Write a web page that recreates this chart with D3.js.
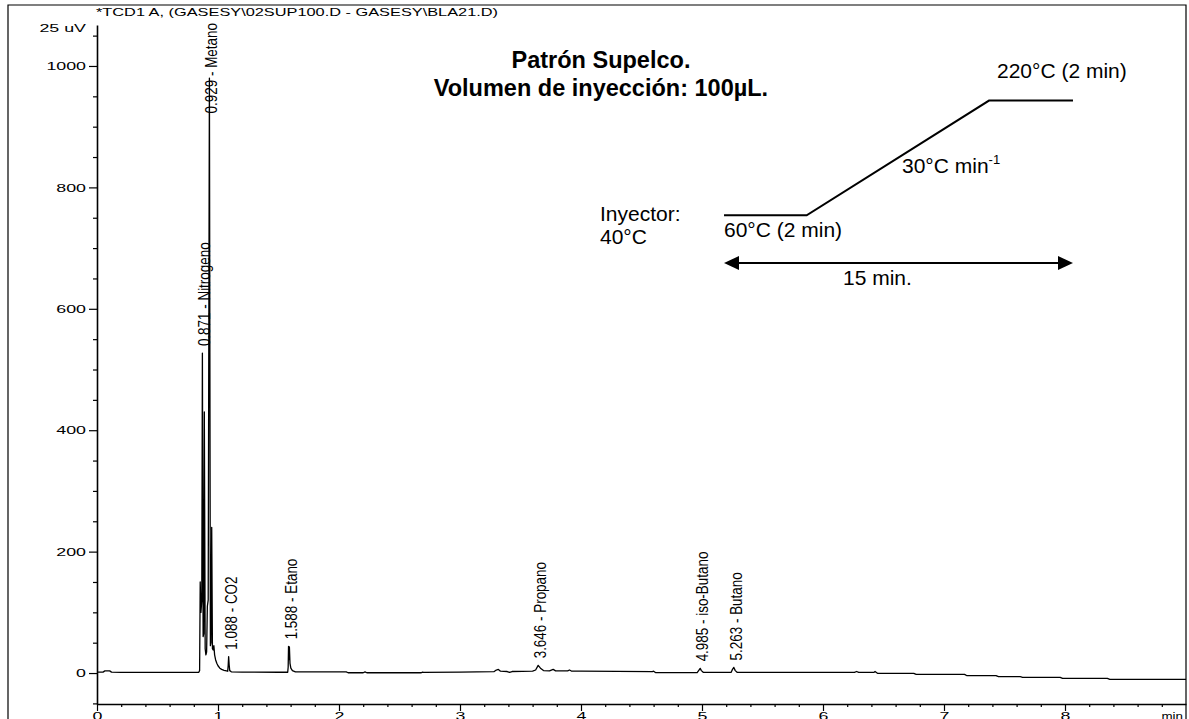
<!DOCTYPE html>
<html>
<head>
<meta charset="utf-8">
<script src="https://cdn.jsdelivr.net/npm/d3@7"></script>
<style>
  html, body { margin: 0; padding: 0; background: #fff; }
  svg { display: block; }
  text { font-family: "Liberation Sans", Arial, Helvetica, sans-serif; fill: #000; }
</style>
</head>
<body>
<svg id="chart" width="1189" height="719"></svg>
<script>
// ---------------- DATA ----------------
const headerText = "*TCD1 A, (GASESY\\02SUP100.D - GASESY\\BLA21.D)";
const unitLabel = "25 uV";
const xUnitLabel = "min";
const titleLines = ["Patrón Supelco.", "Volumen de inyección: 100µL."];

const yTickValues = [0, 200, 400, 600, 800, 1000];
const yTickLabels = ["0", "200", "400", "600", "800", "1000"];
const xTickValues = [0, 1, 2, 3, 4, 5, 6, 7, 8];
const xTickLabels = ["0", "1", "2", "3", "4", "5", "6", "7", "8"];

// chromatogram trace (time in min, signal in 25 uV units)
const traceTime = [
  0.000, 0.050, 0.065, 0.105, 0.120, 0.200, 0.840, 0.848, 0.853, 0.859,
  0.866, 0.871, 0.877, 0.882, 0.887, 0.894, 0.900, 0.906, 0.912, 0.919,
  0.929, 0.937, 0.942, 0.948, 0.954, 0.960, 0.966, 0.972, 0.980, 0.990,
  1.000, 1.015, 1.030, 1.050, 1.070, 1.080, 1.084, 1.088, 1.092, 1.097,
  1.110, 1.200, 1.500, 1.576, 1.580, 1.583, 1.587, 1.590, 1.595, 1.602,
  1.615, 1.640, 1.700, 2.060, 2.075, 2.200, 2.215, 2.230, 2.680, 2.690,
  2.700, 3.000, 3.280, 3.300, 3.317, 3.335, 3.390, 3.410, 3.430, 3.600,
  3.625, 3.646, 3.665, 3.690, 3.740, 3.770, 3.790, 3.890, 3.905, 3.920,
  4.000, 4.590, 4.600, 4.615, 4.960, 4.975, 4.985, 4.995, 5.010, 5.240,
  5.252, 5.263, 5.275, 5.290, 6.260, 6.278, 6.295, 6.420, 6.430, 6.450,
  6.750, 6.770, 7.170, 7.190, 7.430, 7.450, 7.630, 7.650, 7.960, 7.980,
  8.350, 8.370, 9.000
];
const traceSignal = [
  1.5, 1.5, 3.5, 3.5, 1.5, 1.0, 1.0, 4, 150, 100,
  120, 527, 60, 65, 430, 40, 30, 35, 110, 120,
  980, 45, 50, 240, 40, 38, 45, 30, 22, 16,
  12, 8, 6, 4.5, 3.5, 3, 12, 27, 14, 4,
  2, 1.5, 1.3, 1.3, 10, 44, 22, 43, 16, 8,
  4, 2, 1.8, 1.8, 0.5, 0.5, 1.8, 0.5, 0.5, 1.5,
  1.0, 1.5, 2.2, 5, 6, 3, 2.5, 1.2, 2.5, 3,
  5, 12.7, 8, 4, 3.5, 6, 3.5, 3.5, 5, 3.3,
  3, 2.2, 3, 0.8, 0.8, 5, 7.7, 4, 1.2, 1.0,
  6, 9.3, 4, 1.2, 1, 2.5, 1, 1, 2.5, -0.5,
  -0.5, -2.2, -2.2, -4.4, -4.4, -6, -6, -7.1, -7.1, -8.8,
  -8.8, -10.4, -10.4
];

// labelled peaks
const peakTimes   = [0.871, 0.929, 1.088, 1.588, 3.646, 4.985, 5.263];
const peakNames   = ["Nitrogeno", "Metano", "CO2", "Etano", "Propano", "iso-Butano", "Butano"];
const peakHeights = [527, 980, 27, 44, 12.7, 7.7, 9.3];

// temperature-program schematic, placed in chart units
const tempTime  = [5.182, 5.865, 7.372, 8.066];
const tempLevel = [754, 754, 943, 943];
const arrowTime  = [5.182, 8.066];
const arrowLevel = 675.4;
const noteTexts  = ["220°C (2 min)", "Inyector:", "40°C", "60°C (2 min)", "15 min."];
const noteTime   = [7.438, 4.157, 4.157, 5.182, 6.165];
const noteLevel  = [979.6, 745, 707, 718.7, 639.2];
const rateText = "30°C min";
const rateSup = "-1";
const rateTime = 6.653, rateLevel = 823;
const titleTime = 4.165;
const titleLevel = [997, 951];

// ---------------- LAYOUT ----------------
const svg = d3.select("#chart");
const X0 = 97, X1 = 1186, YTOP = 25, YBOT = 704;
const STRETCH = 1.55;
const LABEL_SQUEEZE = 0.84;

const x = d3.scaleLinear().domain([0, 9]).range([X0, X1]);
const y = d3.scaleLinear().domain([-51, 1067.5]).range([YBOT, YTOP]);

// outer frame
svg.append("path")
  .attr("d", `M8,719 L8,5 L1186,5 L1186,719`)
  .attr("fill", "none").attr("stroke", "#000").attr("stroke-width", 1.2);

// header
svg.append("text")
  .attr("x", 96).attr("y", 16)
  .attr("font-size", 11.5)
  .attr("textLength", 402).attr("lengthAdjust", "spacingAndGlyphs")
  .text(headerText);

// y axis (major)
const yAxis = d3.axisLeft(y).tickValues(yTickValues)
  .tickFormat((d, i) => yTickLabels[i]).tickSize(8).tickSizeOuter(0);
const gy = svg.append("g").attr("transform", `translate(${X0},0)`).call(yAxis);
gy.select(".domain").attr("stroke-width", 1.6);
gy.selectAll(".tick line").attr("stroke-width", 1.2);
gy.selectAll(".tick text")
  .attr("font-size", 11.5).attr("font-family", null)
  .attr("x", -11 / STRETCH)
  .attr("transform", `scale(${STRETCH},1)`);

// y minor ticks
const yMinor = d3.range(-50, 1051, 50).filter(v => v % 200 !== 0);
svg.append("g").attr("transform", `translate(${X0},0)`)
  .call(d3.axisLeft(y).tickValues(yMinor).tickSize(4).tickFormat(""))
  .call(g => g.select(".domain").remove())
  .selectAll(".tick line").attr("stroke-width", 1.2);

// unit label
svg.append("text")
  .attr("transform", `translate(86,32) scale(${STRETCH},1)`)
  .attr("text-anchor", "end").attr("font-size", 11.5)
  .text(unitLabel);

// x axis (major)
const xAxis = d3.axisBottom(x).tickValues(xTickValues)
  .tickFormat((d, i) => xTickLabels[i]).tickSize(7).tickSizeOuter(0);
const gx = svg.append("g").attr("transform", `translate(0,${YBOT})`).call(xAxis);
gx.select(".domain").attr("stroke-width", 1.4);
gx.selectAll(".tick line").attr("stroke-width", 1.2);
gx.selectAll(".tick text")
  .attr("font-size", 11.5).attr("font-family", null)
  .attr("y", 16).attr("dy", 0)
  .attr("transform", `scale(${STRETCH},1)`);

// x minor ticks
const xMinor = d3.range(0, 9.0001, 0.2).map(v => +v.toFixed(1)).filter(v => Math.abs(v - Math.round(v)) > 1e-6);
svg.append("g").attr("transform", `translate(0,${YBOT})`)
  .call(d3.axisBottom(x).tickValues(xMinor).tickSize(3).tickFormat(""))
  .call(g => g.select(".domain").remove())
  .selectAll(".tick line").attr("stroke-width", 1.2);

// x unit label
svg.append("text")
  .attr("transform", `translate(1183,720) scale(${STRETCH * 0.75},1)`)
  .attr("text-anchor", "end").attr("font-size", 11.5)
  .text(xUnitLabel);

// trace
const trace = traceTime.map((t, i) => [t, traceSignal[i]]);
svg.append("path")
  .datum(trace)
  .attr("fill", "none").attr("stroke", "#000").attr("stroke-width", 1.3)
  .attr("stroke-linejoin", "round")
  .attr("d", d3.line().x(d => x(d[0])).y(d => y(d[1])));

// peak labels (tall, narrow glyphs)
const peakG = svg.append("g");
peakTimes.forEach((t, i) => {
  const txt = peakG.append("text")
    .attr("font-size", 16)
    .text(`${t.toFixed(3)} - ${peakNames[i]}`);
  const len = txt.node().getComputedTextLength() * LABEL_SQUEEZE;
  const yStart = Math.max(y(peakHeights[i]) - 7, YTOP - 2 + len);
  txt.attr("transform", `translate(${x(t) + 8},${yStart}) rotate(-90) scale(${LABEL_SQUEEZE},1)`);
});

// title
titleLines.forEach((s, i) => {
  svg.append("text")
    .attr("x", x(titleTime)).attr("y", y(titleLevel[i]))
    .attr("text-anchor", "middle")
    .attr("font-size", 23.5).attr("font-weight", "bold")
    .text(s);
});

// temperature program
svg.append("path")
  .datum(tempTime.map((t, i) => [t, tempLevel[i]]))
  .attr("fill", "none").attr("stroke", "#000").attr("stroke-width", 2)
  .attr("d", d3.line().x(d => x(d[0])).y(d => y(d[1])));

// double arrow
const ax0 = x(arrowTime[0]), ax1 = x(arrowTime[1]), ay = y(arrowLevel);
svg.append("line")
  .attr("x1", ax0 + 10).attr("x2", ax1 - 10).attr("y1", ay).attr("y2", ay)
  .attr("stroke", "#000").attr("stroke-width", 2);
svg.append("path")
  .attr("d", `M${ax0},${ay} L${ax0 + 15},${ay - 7} L${ax0 + 15},${ay + 7} Z`)
  .attr("fill", "#000");
svg.append("path")
  .attr("d", `M${ax1},${ay} L${ax1 - 15},${ay - 7} L${ax1 - 15},${ay + 7} Z`)
  .attr("fill", "#000");

// notes
noteTexts.forEach((s, i) => {
  svg.append("text")
    .attr("x", x(noteTime[i])).attr("y", y(noteLevel[i]))
    .attr("font-size", 21)
    .text(s);
});
const rt = svg.append("text")
  .attr("x", x(rateTime)).attr("y", y(rateLevel))
  .attr("font-size", 21);
rt.append("tspan").text(rateText);
rt.append("tspan").attr("font-size", 13).attr("dy", -9).text(rateSup);
</script>
</body>
</html>
